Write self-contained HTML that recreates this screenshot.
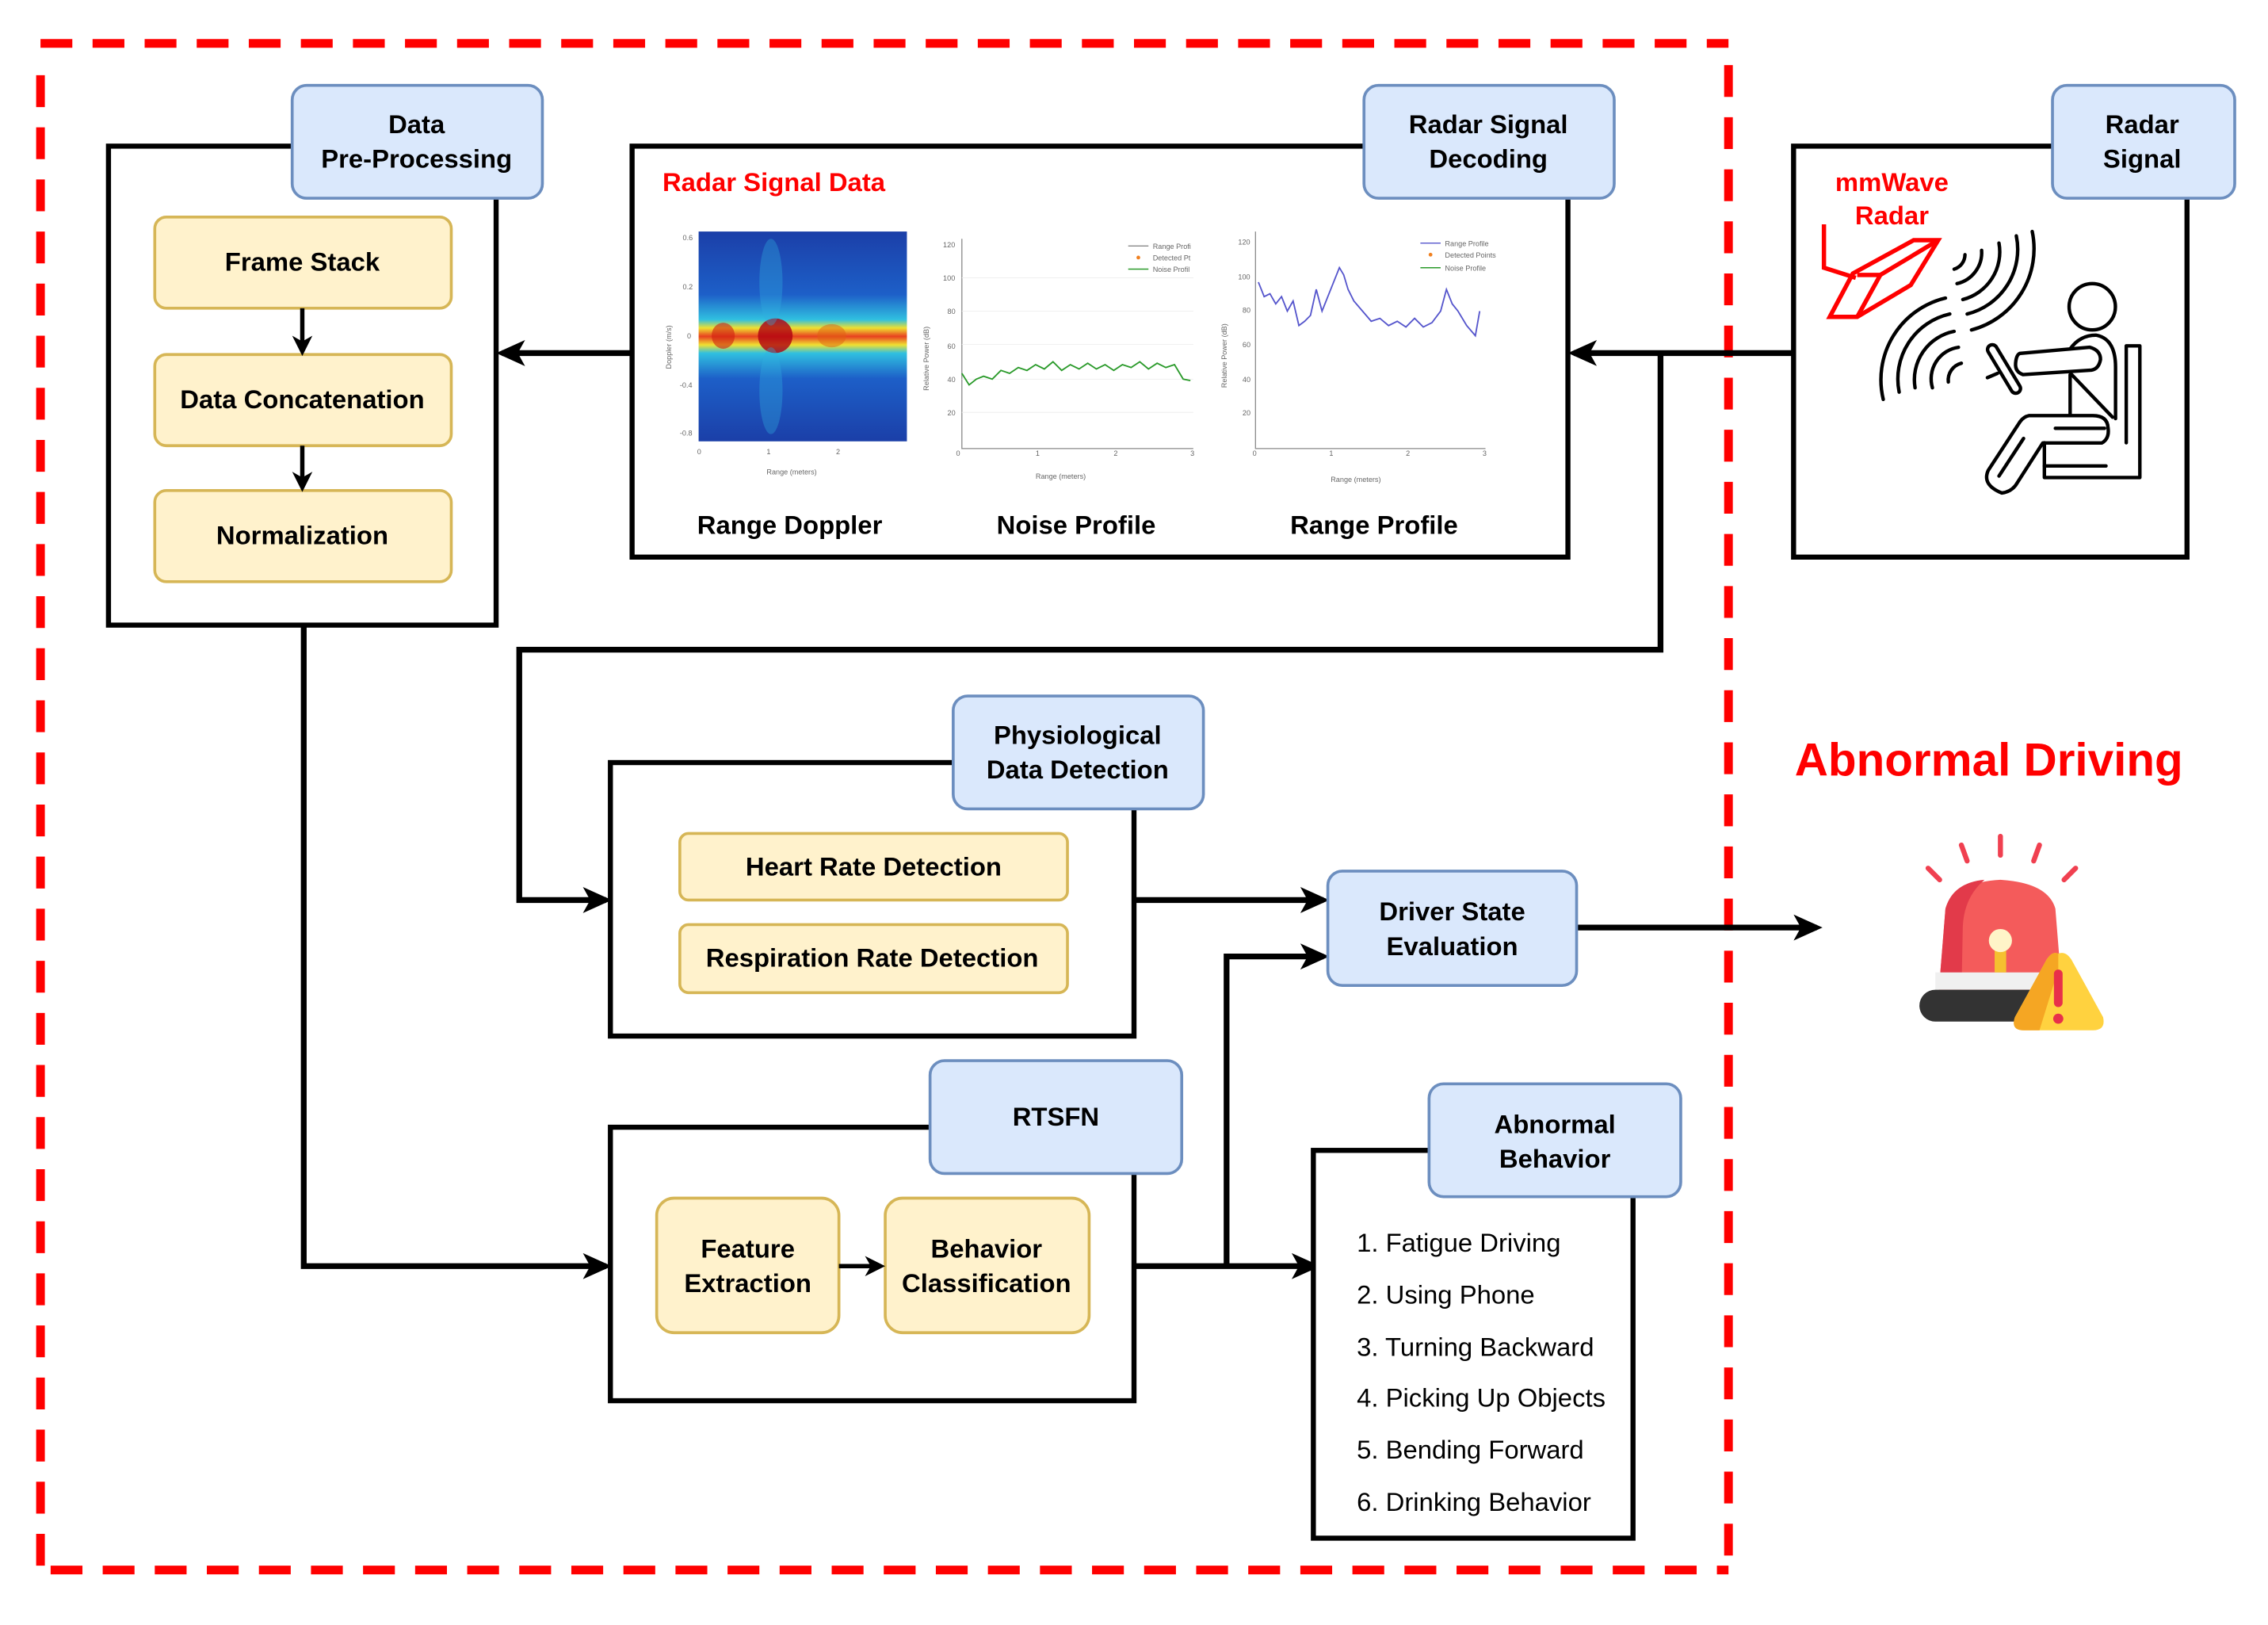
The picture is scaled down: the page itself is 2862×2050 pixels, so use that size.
<!DOCTYPE html>
<html><head><meta charset="utf-8"><style>
html,body{margin:0;padding:0;background:#fff}
svg{display:block}
text{font-family:"Liberation Sans",Arial,sans-serif}
.b{font-weight:bold;font-size:18px;fill:#000;text-anchor:middle}
.lb{fill:#dae8fc;stroke:#6c8ebf;stroke-width:2}
.yb{fill:#fff2cc;stroke:#d6b656;stroke-width:2}
.bx{fill:#fff;stroke:#000;stroke-width:3.5}
.ln{fill:none;stroke:#000;stroke-width:4}
.t{font-size:5px;fill:#666}
</style></head><body>
<svg width="2862" height="2050" viewBox="0 0 1568 1123" preserveAspectRatio="none" xmlns="http://www.w3.org/2000/svg">
<defs>
<marker id="ah" markerWidth="20" markerHeight="18" refX="16" refY="9" orient="auto" markerUnits="userSpaceOnUse" viewBox="0 0 20 18"><path d="M0,0 L20,9 L0,18 L5,9 Z" fill="#000"/></marker>
<marker id="as" markerWidth="14" markerHeight="14" refX="11" refY="7" orient="auto" markerUnits="userSpaceOnUse" viewBox="0 0 14 14"><path d="M0,0 L14,7 L0,14 L4,7 Z" fill="#000"/></marker>
<linearGradient id="hm" x1="0" y1="0" x2="0" y2="1">
<stop offset="0" stop-color="#1b3fa8"/><stop offset="0.3" stop-color="#1d5fc8"/><stop offset="0.42" stop-color="#30c0e0"/><stop offset="0.46" stop-color="#f0e030"/><stop offset="0.5" stop-color="#e84020"/><stop offset="0.54" stop-color="#f0e030"/><stop offset="0.58" stop-color="#30c0e0"/><stop offset="0.7" stop-color="#1d5fc8"/><stop offset="1" stop-color="#1b3fa8"/>
</linearGradient>
</defs>
<g fill="none" stroke="#ff0000" stroke-width="6" stroke-dasharray="22 14">
<line x1="28" y1="30" x2="1195" y2="30"/>
<line x1="28" y1="52" x2="28" y2="1085"/>
<line x1="35" y1="1085" x2="1195" y2="1085"/>
<line x1="1195" y1="45" x2="1195" y2="1085"/>
</g>

<line class="ln" x1="1240" y1="244" x2="1088" y2="244" marker-end="url(#ah)"/>
<line class="ln" x1="437" y1="244" x2="347" y2="244" marker-end="url(#ah)"/>
<polyline class="ln" points="1148,244 1148,449 359,449 359,622 419,622" marker-end="url(#ah)"/>
<polyline class="ln" points="210,432 210,875 419,875" marker-end="url(#ah)"/>
<line class="ln" x1="784" y1="622" x2="915" y2="622" marker-end="url(#ah)"/>
<line class="ln" x1="1090" y1="641" x2="1256" y2="641" marker-end="url(#ah)"/>
<line class="ln" x1="784" y1="875" x2="909" y2="875" marker-end="url(#ah)"/>
<polyline class="ln" points="848,875 848,661 915,661" marker-end="url(#ah)"/>

<rect class="bx" x="75" y="101" width="268" height="331"/>
<rect class="lb" x="202" y="59" width="173" height="78" rx="10"/>
<text class="b" x="288" y="92">Data</text><text class="b" x="288" y="116">Pre-Processing</text>
<rect class="yb" x="107" y="150" width="205" height="63" rx="8"/><text class="b" x="209" y="187">Frame Stack</text>
<rect class="yb" x="107" y="245" width="205" height="63" rx="8"/><text class="b" x="209" y="282">Data Concatenation</text>
<rect class="yb" x="107" y="339" width="205" height="63" rx="8"/><text class="b" x="209" y="376">Normalization</text>
<line stroke="#000" stroke-width="3" x1="209" y1="213" x2="209" y2="243" marker-end="url(#as)"/>
<line stroke="#000" stroke-width="3" x1="209" y1="308" x2="209" y2="337" marker-end="url(#as)"/>

<rect class="bx" x="437" y="101" width="647" height="284"/>
<rect class="lb" x="943" y="59" width="173" height="78" rx="10"/>
<text class="b" x="1029" y="92">Radar Signal</text><text class="b" x="1029" y="116">Decoding</text>
<text x="458" y="132" style="font-weight:bold;font-size:18px;fill:#ff0000">Radar Signal Data</text>
<rect x="483" y="160" width="144" height="145" fill="url(#hm)"/>
<ellipse cx="536" cy="232" rx="12" ry="12" fill="#b00010" opacity="0.8"/>
<ellipse cx="500" cy="232" rx="8" ry="9" fill="#d02010" opacity="0.6"/>
<ellipse cx="575" cy="232" rx="10" ry="8" fill="#e06010" opacity="0.5"/>
<ellipse cx="533" cy="270" rx="8" ry="30" fill="#30b0e0" opacity="0.35"/>
<ellipse cx="533" cy="195" rx="8" ry="30" fill="#30b0e0" opacity="0.35"/>
<g class="t"><text x="472" y="166">0.6</text><text x="472" y="200">0.2</text><text x="475" y="234">0</text><text x="470" y="268">-0.4</text><text x="470" y="301">-0.8</text><text x="530" y="328">Range (meters)</text><text x="482" y="314">0</text><text x="530" y="314">1</text><text x="578" y="314">2</text></g>
<text class="t" transform="translate(464,255) rotate(-90)">Doppler (m/s)</text>
<g fill="none" stroke="#888" stroke-width="0.7"><polyline points="665,165 665,310 825,310"/><polyline points="868,160 868,310 1027,310"/></g>
<g fill="none" stroke="#eee" stroke-width="0.5"><line x1="665" y1="192" x2="825" y2="192"/><line x1="665" y1="215" x2="825" y2="215"/><line x1="665" y1="238" x2="825" y2="238"/><line x1="665" y1="262" x2="825" y2="262"/><line x1="665" y1="285" x2="825" y2="285"/></g>
<polyline fill="none" stroke="#2a9a2a" stroke-width="1" points="665,258 670,266 675,262 680,260 686,262 692,256 698,258 704,254 710,256 716,252 722,255 728,250 734,256 740,252 746,255 752,251 758,255 764,252 770,256 776,252 782,254 788,250 794,255 800,251 806,254 812,252 818,262 823,263"/>
<polyline fill="none" stroke="#5555cc" stroke-width="1" points="870,195 874,205 878,203 882,210 886,205 890,215 894,208 898,225 902,222 906,218 910,200 914,215 918,205 922,195 926,185 929,190 932,200 936,208 942,215 948,222 954,220 960,225 966,222 972,226 978,220 984,226 990,223 996,215 1000,200 1004,210 1008,215 1014,225 1020,232 1023,215"/>
<g class="t"><text x="652" y="171">120</text><text x="652" y="194">100</text><text x="655" y="217">80</text><text x="655" y="241">60</text><text x="655" y="264">40</text><text x="655" y="287">20</text><text x="716" y="331">Range (meters)</text><text x="661" y="315">0</text><text x="716" y="315">1</text><text x="770" y="315">2</text><text x="823" y="315">3</text>
<text x="856" y="169">120</text><text x="856" y="193">100</text><text x="859" y="216">80</text><text x="859" y="240">60</text><text x="859" y="264">40</text><text x="859" y="287">20</text><text x="920" y="333">Range (meters)</text><text x="866" y="315">0</text><text x="919" y="315">1</text><text x="972" y="315">2</text><text x="1025" y="315">3</text>
<text x="797" y="172">Range Profi</text><text x="797" y="180">Detected Pt</text><text x="797" y="188">Noise Profil</text>
<text x="999" y="170">Range Profile</text><text x="999" y="178">Detected Points</text><text x="999" y="187">Noise Profile</text></g>
<g stroke-width="0.8"><line x1="780" y1="170" x2="794" y2="170" stroke="#888"/><circle cx="787" cy="178" r="1.3" fill="#f08020"/><line x1="780" y1="186" x2="794" y2="186" stroke="#2a9a2a"/>
<line x1="982" y1="168" x2="996" y2="168" stroke="#5555cc"/><circle cx="989" cy="176" r="1.3" fill="#f08020"/><line x1="982" y1="185" x2="996" y2="185" stroke="#2a9a2a"/></g>
<text class="t" transform="translate(642,270) rotate(-90)">Relative Power (dB)</text>
<text class="t" transform="translate(848,268) rotate(-90)">Relative Power (dB)</text>
<text class="b" x="546" y="369">Range Doppler</text><text class="b" x="744" y="369">Noise Profile</text><text class="b" x="950" y="369">Range Profile</text>

<rect class="bx" x="1240" y="101" width="272" height="284"/>
<rect class="lb" x="1419" y="59" width="126" height="78" rx="10"/>
<text class="b" x="1481" y="92">Radar</text><text class="b" x="1481" y="116">Signal</text>
<text x="1308" y="132" style="font-weight:bold;font-size:18px;fill:#ff0000;text-anchor:middle">mmWave</text>
<text x="1308" y="155" style="font-weight:bold;font-size:18px;fill:#ff0000;text-anchor:middle">Radar</text>
<g fill="none" stroke="#ff0000" stroke-width="3">
<polyline points="1261,155 1261,185 1283,192"/>
<polygon points="1281,189 1323,166 1340,166 1321,197 1284,219 1265,219"/>
<line x1="1284" y1="190" x2="1300" y2="190"/><line x1="1300" y1="190" x2="1284" y2="219"/><line x1="1300" y1="190" x2="1340" y2="166"/>
</g>
<g fill="none" stroke="#000" stroke-width="2.4" stroke-linecap="round">
<path d="M1358.5,176 A10.5,10.5 0 0 1 1351,186"/>
<path d="M1370,173 A22,22 0 0 1 1353,196"/>
<path d="M1382,168 A34,34 0 0 1 1357,207"/>
<path d="M1394,163 A46,46 0 0 1 1360,217"/>
<path d="M1405,160 A58,58 0 0 1 1363,228"/>
<path d="M1356,251 A12,12 0 0 0 1347,264"/>
<path d="M1354,240 A22,22 0 0 0 1336,268"/>
<path d="M1351,229 A34,34 0 0 0 1324,268"/>
<path d="M1348,217 A46,46 0 0 0 1313,271"/>
<path d="M1345,206 A58,58 0 0 0 1302,276"/>
</g>
<g fill="none" stroke="#000" stroke-width="2.4" stroke-linecap="round" stroke-linejoin="round">
<circle cx="1446.5" cy="212" r="16"/>
<path d="M1396.6,244.2 L1444.8,240 Q1452.2,242 1452.2,248.4 Q1451,255 1445.9,255.8 L1398.7,258.9 Q1393,257 1393.5,251 Q1394,245 1396.6,244.2 Z"/>
<path d="M1431.2,241.1 Q1438,231.6 1449,231.6 Q1462.6,234 1462.6,253.7 L1462.6,289.3"/>
<line x1="1431.2" y1="258.9" x2="1431.2" y2="287.2"/>
<line x1="1432.3" y1="258.9" x2="1460.5" y2="288.3"/>
<path d="M1457.4,295.6 Q1457,287.2 1446.9,287.2 L1402.9,287.2 Q1399,288 1396.6,291.4 L1374.6,325 Q1370,335 1384,340.7 Q1390,340 1393.5,335.4 L1412.3,306.1 L1453.2,306.1 Q1458.5,303 1457.4,295.6 Z"/>
<line x1="1382" y1="329" x2="1399" y2="303"/>
<line x1="1421" y1="296" x2="1455" y2="296"/>
<path d="M1413.4,306 L1413.4,330 L1479.4,330 L1479.4,239 L1470,239 L1470,306"/>
<line x1="1413.4" y1="322" x2="1456" y2="322"/>
<rect x="-19" y="-3.3" width="38" height="6.6" rx="3.3" transform="translate(1385.5,255) rotate(59)"/>
<line x1="1374" y1="261" x2="1381" y2="258"/>
</g>

<rect class="bx" x="422" y="527" width="362" height="189"/>
<rect class="lb" x="659" y="481" width="173" height="78" rx="10"/>
<text class="b" x="745" y="514">Physiological</text><text class="b" x="745" y="538">Data Detection</text>
<rect class="yb" x="470" y="576" width="268" height="46" rx="6"/><text class="b" x="604" y="605">Heart Rate Detection</text>
<rect class="yb" x="470" y="639" width="268" height="47" rx="6"/><text class="b" x="603" y="668">Respiration Rate Detection</text>

<rect class="lb" x="918" y="602" width="172" height="79" rx="10"/>
<text class="b" x="1004" y="636">Driver State</text><text class="b" x="1004" y="660">Evaluation</text>

<rect class="bx" x="422" y="779" width="362" height="189"/>
<rect class="lb" x="643" y="733" width="174" height="78" rx="10"/>
<text class="b" x="730" y="778">RTSFN</text>
<rect class="yb" x="454" y="828" width="126" height="93" rx="12"/><text class="b" x="517" y="869">Feature</text><text class="b" x="517" y="893">Extraction</text>
<rect class="yb" x="612" y="828" width="141" height="93" rx="12"/><text class="b" x="682" y="869">Behavior</text><text class="b" x="682" y="893">Classification</text>
<line stroke="#000" stroke-width="3" x1="580" y1="875" x2="609" y2="875" marker-end="url(#as)"/>

<rect class="bx" x="908" y="795" width="221" height="268"/>
<rect class="lb" x="988" y="749" width="174" height="78" rx="10"/>
<text class="b" x="1075" y="783">Abnormal</text><text class="b" x="1075" y="807">Behavior</text>
<g style="font-size:18px;fill:#000">
<text x="938" y="865">1. Fatigue Driving</text><text x="938" y="901">2. Using Phone</text><text x="938" y="937">3. Turning Backward</text><text x="938" y="972">4. Picking Up Objects</text><text x="938" y="1008">5. Bending Forward</text><text x="938" y="1044">6. Drinking Behavior</text>
</g>

<text x="1375" y="536" style="font-weight:bold;font-size:32px;fill:#ff0000;text-anchor:middle">Abnormal Driving</text>
<g stroke="#f04050" stroke-width="3.5" stroke-linecap="round">
<line x1="1333" y1="600" x2="1341" y2="608"/><line x1="1356" y1="584" x2="1360" y2="595"/><line x1="1383" y1="578" x2="1383" y2="591"/><line x1="1410" y1="584" x2="1406" y2="595"/><line x1="1435" y1="600" x2="1427" y2="608"/>
</g>
<path d="M1340,690 L1345,628 Q1350,610 1383,608 Q1416,610 1421,628 L1426,690 Z" fill="#f45b5b"/>
<path d="M1340,690 L1345,628 Q1350,610 1372,608 Q1358,620 1357,640 L1356,690 Z" fill="#e23a4a"/>
<rect x="1338" y="672" width="88" height="12" fill="#f0f0f0"/>
<rect x="1379" y="652" width="8" height="20" fill="#f5c030"/>
<circle cx="1383" cy="650" r="8" fill="#fff4c8"/>
<rect x="1327" y="684" width="98" height="22" rx="11" fill="#333"/>
<path d="M1423,659 Q1428,657 1432,663 L1454,703 Q1456,712 1447,712 L1399,712 Q1390,712 1393,703 L1415,663 Q1419,657 1423,659 Z" fill="#ffd23f"/>
<path d="M1423,659 Q1419,657 1415,663 L1393,703 Q1390,712 1399,712 L1410,712 L1423,670 Z" fill="#f5a623"/>
<rect x="1420" y="670" width="6" height="26" rx="3" fill="#e8304a"/>
<circle cx="1423" cy="704" r="3.5" fill="#e8304a"/>
</svg>
</body></html>
